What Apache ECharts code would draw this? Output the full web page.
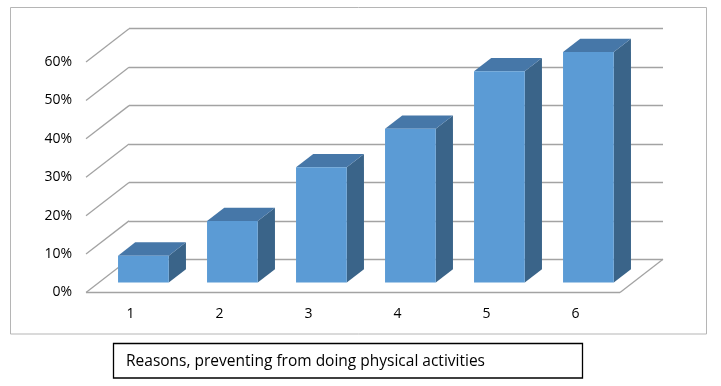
<!DOCTYPE html>
<html>
<head>
<meta charset="utf-8">
<script src="https://cdn.jsdelivr.net/npm/echarts@6/dist/echarts.min.js"></script>
<style>
html,body{margin:0;padding:0;background:#fff;}
#chart{width:721px;height:386px;}
</style>
</head>
<body>
<div id="chart"></div>
<script>
// ---- data ----
var categories = ['1', '2', '3', '4', '5', '6'];
var values = [0.07, 0.16, 0.30, 0.40, 0.55, 0.60];
var yTicks = [0, 0.1, 0.2, 0.3, 0.4, 0.5, 0.6];
var captionText = 'Reasons, preventing from doing physical activities';

// ---- layout ----
var W = 721, H = 386;
var FRONT = {left: 86, top: 62, right: 101, bottom: 93.5};
var BACK = {left: 129, top: 28.7, right: 58, bottom: 126.7};
var DX = BACK.left - FRONT.left;          // depth vector x
var DY = -(BACK.bottom - FRONT.bottom);   // depth vector y (up)
var F0 = 0.30, F1 = 0.70, BAR_RATIO = 0.57;
var GRID_COLOR = '#A3A3A3';
var FONT = '"Open Sans", Lato, "Liberation Sans", sans-serif';

var chart = echarts.init(document.getElementById('chart'), null, {renderer: 'canvas'});

var option = {
  animation: false,
  backgroundColor: '#fff',
  grid: [
    {left: BACK.left, top: BACK.top, right: BACK.right, bottom: BACK.bottom, containLabel: false},
    {left: FRONT.left, top: FRONT.top, right: FRONT.right, bottom: FRONT.bottom, containLabel: false}
  ],
  xAxis: [
    {gridIndex: 0, type: 'category', data: categories, show: false},
    {gridIndex: 1, type: 'category', data: categories,
     axisLine: {show: false}, axisTick: {show: false},
     axisLabel: {margin: 15, color: '#000', fontSize: 14, fontFamily: FONT}}
  ],
  yAxis: [
    {gridIndex: 0, type: 'value', min: 0, max: 0.6, interval: 0.1,
     axisLine: {show: false}, axisTick: {show: false}, axisLabel: {show: false},
     splitLine: {show: true, lineStyle: {color: GRID_COLOR, width: 1.3}}},
    {gridIndex: 1, type: 'value', min: 0, max: 0.6, interval: 0.1,
     axisLine: {show: false}, axisTick: {show: false}, splitLine: {show: false},
     axisLabel: {margin: 14, color: '#000', fontSize: 14, fontFamily: FONT, padding: [3, 0, 0, 0],
       formatter: function (v) { return Math.round(v * 100) + '%'; }}}
  ],
  series: [
    {
      type: 'custom', xAxisIndex: 1, yAxisIndex: 1, z: 1,
      data: yTicks.map(function (t) { return [0, t]; }),
      renderItem: function (params, api) {
        var v = api.value(1);
        var bw = api.size([1, 0])[0];
        var p = api.coord([0, v]);
        var xl = p[0] - bw / 2;
        var children = [{
          type: 'line',
          shape: {x1: xl, y1: p[1], x2: xl + DX, y2: p[1] + DY},
          style: {stroke: GRID_COLOR, lineWidth: 1.3}
        }];
        if (v === 0) {
          var pr = api.coord([categories.length - 1, 0]);
          var xr = pr[0] + bw / 2;
          children.push({type: 'line', shape: {x1: xl, y1: p[1], x2: xr, y2: p[1]},
            style: {stroke: GRID_COLOR, lineWidth: 1.3}});
          children.push({type: 'line', shape: {x1: xr, y1: p[1], x2: xr + DX, y2: p[1] + DY},
            style: {stroke: GRID_COLOR, lineWidth: 1.3}});
        }
        return {type: 'group', children: children};
      }
    },
    {
      type: 'custom', xAxisIndex: 1, yAxisIndex: 1, z: 5,
      data: values.map(function (v, i) { return [i, v]; }),
      renderItem: function (params, api) {
        var i = api.value(0), v = api.value(1);
        var base = api.coord([i, 0]);
        var top = api.coord([i, v]);
        var bw = api.size([1, 0])[0] * BAR_RATIO;
        var xl = base[0] - bw / 2 + DX * F0;
        var xr = xl + bw;
        var yb = base[1] + DY * F0;
        var yt = top[1] + DY * F0;
        var ddx = DX * (F1 - F0), ddy = DY * (F1 - F0);
        return {
          type: 'group',
          children: [
            {type: 'polygon', shape: {points: [[xr, yt], [xr + ddx, yt + ddy], [xr + ddx, yb + ddy], [xr, yb]]},
             style: {fill: '#3A6489'}},
            {type: 'polygon', shape: {points: [[xl, yt], [xr, yt], [xr + ddx, yt + ddy], [xl + ddx, yt + ddy]]},
             style: {fill: '#4677A8'}},
            {type: 'rect', shape: {x: xl, y: yt, width: bw, height: yb - yt},
             style: {fill: '#5B9BD5'}}
          ]
        };
      }
    }
  ],
  graphic: [
    {type: 'rect', z: -10, shape: {x: 10.5, y: 7.5, width: 696, height: 326.5},
     style: {fill: 'none', stroke: '#B5B5B5', lineWidth: 1}},
    {type: 'rect', shape: {x: 113.5, y: 343.5, width: 469, height: 34.5},
     style: {fill: '#fff', stroke: '#000', lineWidth: 1.3}},
    {type: 'text', x: 126, y: 361.5, style: {text: captionText, fill: '#000',
     font: '15.5px ' + FONT, textVerticalAlign: 'middle', verticalAlign: 'middle'}}
  ]
};
chart.setOption(option);
</script>
</body>
</html>
